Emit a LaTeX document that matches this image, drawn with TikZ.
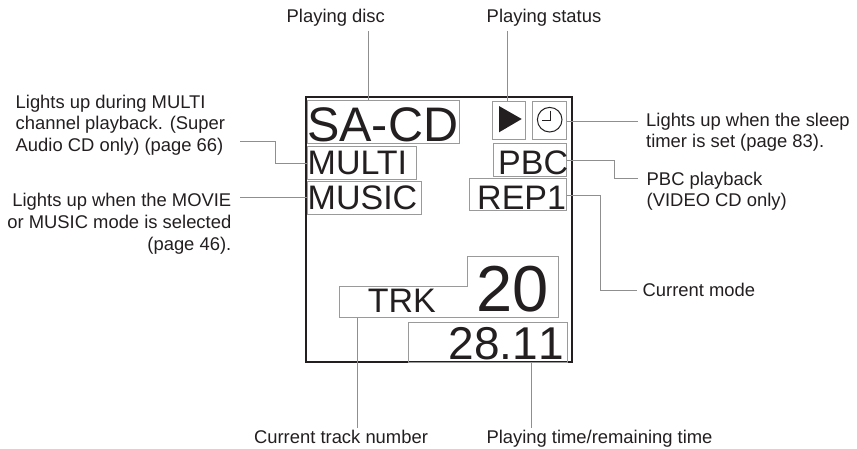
\documentclass[tikz,border=0pt]{standalone}
\usepackage{fontspec}
\setmainfont{Liberation Sans}
\newfontfamily\nokern[Kerning=Off]{Liberation Sans}
\definecolor{ink}{HTML}{231F20}
\definecolor{boxgray}{HTML}{9A9A9A}
\definecolor{leadgray}{HTML}{8F8F8F}
\newcommand{\fs}[1]{\fontsize{#1}{#1}\selectfont}
\tikzset{
  disp/.style={draw=boxgray,line width=1pt,inner sep=0pt},
  lead/.style={draw=leadgray,line width=0.9pt},
  big/.style={text=ink,inner sep=0pt,anchor=base west,font=\fs{#1}},
  lab/.style={text=ink,inner sep=0pt,font=\fontsize{18.4}{21.6}\selectfont},
  labl/.style={lab,align=left,anchor=north west},
  labr/.style={lab,align=right,anchor=north east},
  labc/.style={lab,anchor=base}
}
\begin{document}
\begin{tikzpicture}[x=1pt,y=-1pt]
\useasboundingbox (0,0) rectangle (857,448);
\fill[white] (0,0) rectangle (857,448);
% frame
\draw[ink,line width=2pt] (305.5,97) rectangle (571.7,362);
% display boxes
\node[disp,minimum width=152.7pt,minimum height=42.7pt] (sacd) at (383.35,121.65) {};
\node[disp,minimum width=109pt,minimum height=33.3pt] (multi) at (361.5,162.65) {};
\node[disp,minimum width=114pt,minimum height=33pt] (music) at (364,198.2) {};
\node[disp,minimum width=33.7pt,minimum height=38.3pt] (play) at (508.85,120.15) {};
\node[disp,minimum width=33.6pt,minimum height=38.3pt] (clock) at (549.5,120.15) {};
\node[disp,minimum width=73.3pt,minimum height=33pt] (pbc) at (529.65,159.8) {};
\node[disp,minimum width=96.6pt,minimum height=32.7pt] (rep) at (518,194.35) {};
\node[disp,minimum width=159pt,minimum height=39.3pt] (time) at (487.8,342.35) {};
\coordinate (trkA) at (339,286.3);
\coordinate (trkB) at (467,286.3);
\coordinate (trkC) at (467,256);
\coordinate (trkD) at (558.3,256);
\coordinate (trkE) at (558.3,317.7);
\coordinate (trkF) at (339,317.7);
\draw[draw=boxgray,line width=1pt] (trkA) -- (trkB) -- (trkC) -- (trkD) -- (trkE) -- (trkF) -- cycle;
% display texts
\node[big=48.5] (tsacd) at (307,141.7) {SA-CD};
\node[big=34] (tmulti) at (307.5,174.3) {MULTI};
\node[big=34] (tmusic) at (307.5,209.3) {MUSIC};
\node[big=34] (tpbc) at (498,174.3) {PBC};
\node[big=34] (trep) at (477,209.3) {REP1};
\node[big=34] (ttrk) at (367.6,312.7) {TRK};
\node[big=65] (t20) at (476,311.7) {20};
\node[big=46] (ttime) at (448.6,359) {\nokern 28.11};
% icons
\fill[ink] (499,106) -- (499,132.3) -- (521.7,119) -- cycle;
\draw[ink,line width=1pt] (549.7,119.7) circle (12.3);
\draw[ink,line width=1pt] (550.7,110.7) -- (550.7,120.7) -- (542.3,120.7);
% labels
\node[labc] (ldisc) at (335.8,22.7) {Playing disc};
\node[labc] (lstatus) at (544,22.7) {Playing status};
\node[labl] (lmulti) at (15.5,94.6) {Lights up during MULTI\\channel playback. (Super\\Audio CD only) (page 66)};
\node[labr] (lmusic) at (231.5,193.3) {Lights up when the MOVIE\\or MUSIC mode is selected\\(page 46).};
\node[labl] (lsleep) at (646,112.6) {Lights up when the sleep\\timer is set (page 83).};
\node[labl] (lpbc) at (646.5,171.6) {PBC playback\\(VIDEO CD only)};
\node[lab,anchor=base west] (lmode) at (642.5,296.7) {Current mode};
\node[labc] (ltrack) at (341,443) {Current track number};
\node[labc] (lptime) at (599.5,443) {Playing time/remaining time};
% connector ends
\coordinate (dE) at (368.7,31);
\coordinate (sE) at (507.7,31);
\coordinate (kE) at (638,121.7);
\coordinate (pE) at (638,178);
\coordinate (rE) at (637,290.3);
\coordinate (mE) at (240,141.3);
\coordinate (uE) at (240,197);
\coordinate (tE) at (357.7,427.7);
\coordinate (oE) at (531.3,427.7);
% connectors
\draw[lead] (dE) -- (dE |- sacd.north);
\draw[lead] (sE) -- (sE |- play.north);
\draw[lead] (clock.east |- kE) -- (kE);
\draw[lead] (pbc.east |- 0,160.7) -- (614,160.7) -- (614,178) -- (pE);
\draw[lead] (rep.east |- 0,195.3) -- (600.3,195.3) -- (600.3,290.3) -- (rE);
\draw[lead] (multi.west |- 0,163.7) -- (275.3,163.7) -- (275.3,141.3) -- (mE);
\draw[lead] (music.west |- uE) -- (uE);
\draw[lead] (tE |- trkF) -- (tE);
\draw[lead] (oE |- time.south) -- (oE);
\end{tikzpicture}
\end{document}
